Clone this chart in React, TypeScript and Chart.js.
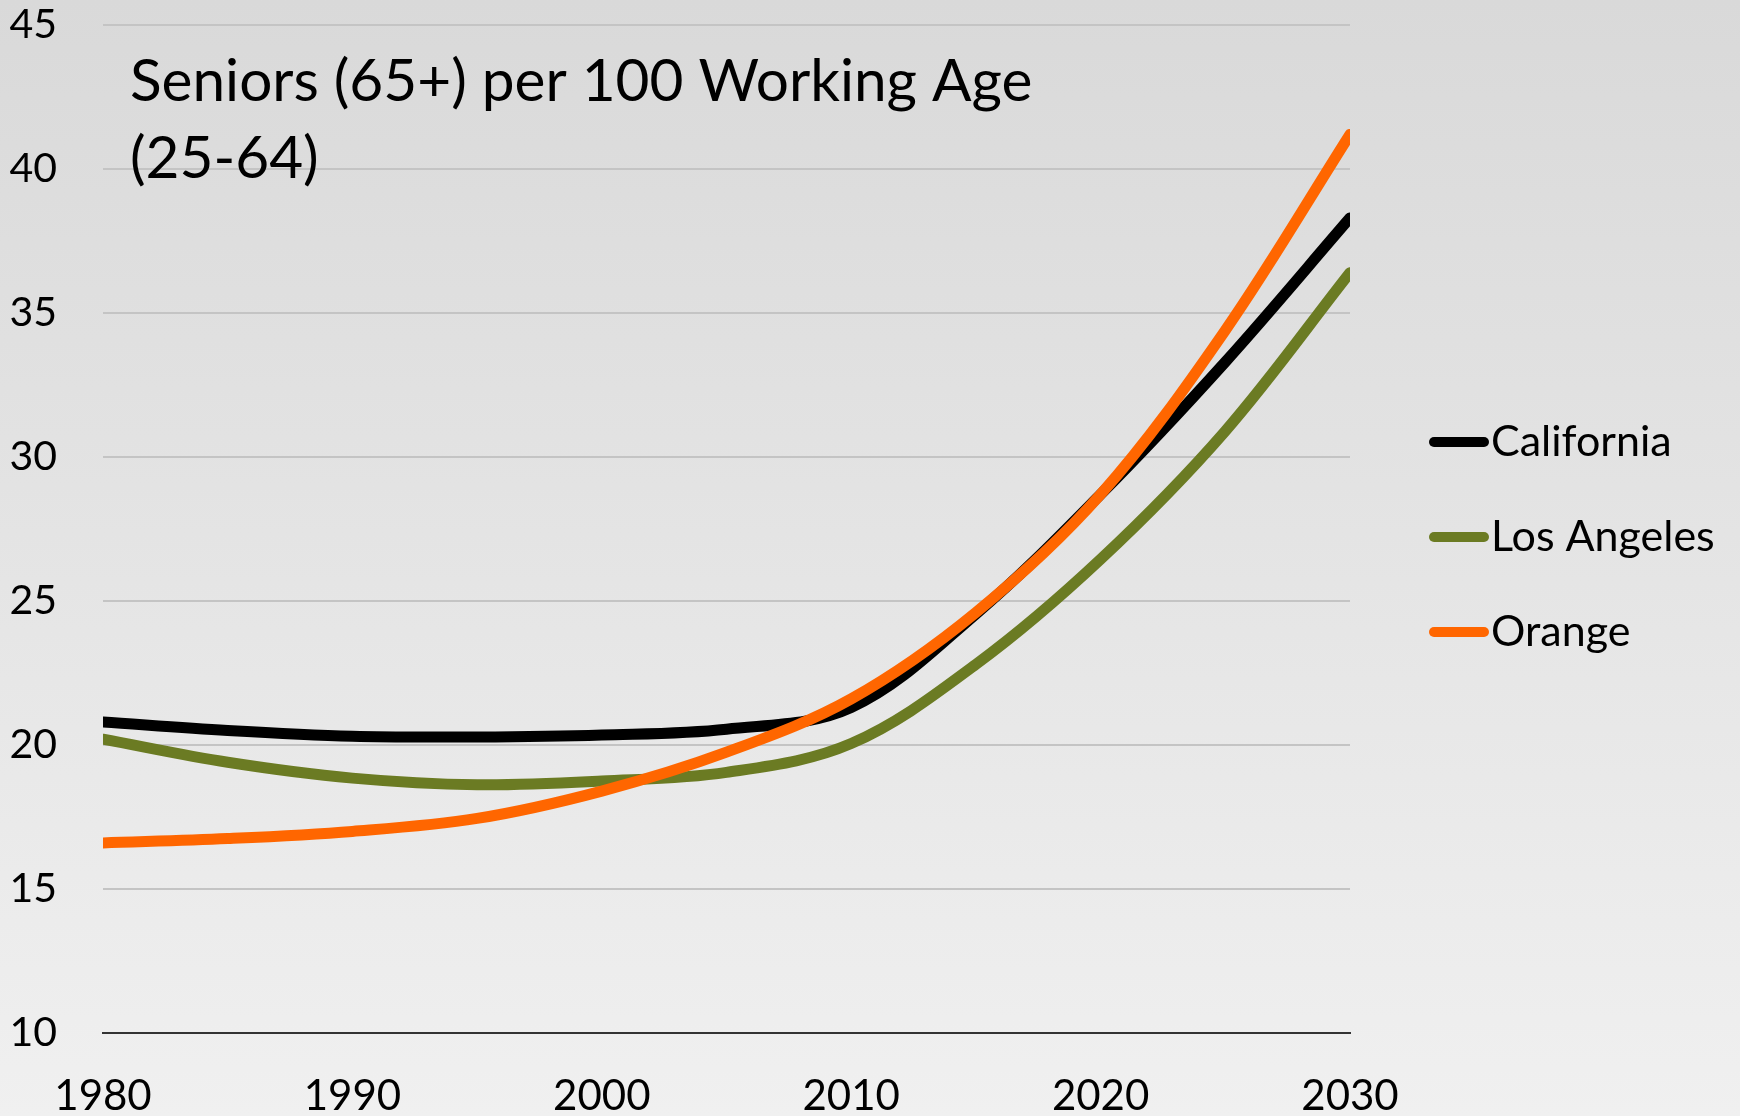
import React, { useEffect, useRef } from "react";
import { Chart, registerables } from "chart.js";

Chart.register(...registerables);

const years = [1980, 1985, 1990, 1995, 2000, 2005, 2010, 2015, 2020, 2025, 2030];
const californiaValues = [20.8, 20.5, 20.3, 20.28, 20.35, 20.55, 21.3, 24.55, 28.7, 33.3, 38.3];
const losAngelesValues = [20.2, 19.4, 18.85, 18.62, 18.75, 19.05, 20.05, 22.8, 26.45, 30.9, 36.4];
const orangeValues = [16.6, 16.75, 17.0, 17.45, 18.4, 19.75, 21.6, 24.6, 28.7, 34.4, 41.2];

const seriesLabels = ["California", "Los Angeles", "Orange"];
const seriesColors = ["#000000", "#6b7b23", "#ff6600"];
const xTickValues = [1980, 1990, 2000, 2010, 2020, 2030];
const yTickValues = [10, 15, 20, 25, 30, 35, 40, 45];
const titleLines = ["Seniors (65+) per 100 Working Age", "(25-64)"];

const FONT = "Lato, 'Open Sans', sans-serif";

const overlayPlugin = {
  id: "overlay",
  afterDraw(chart: any) {
    const ctx = chart.ctx;
    ctx.save();
    ctx.fillStyle = "#000000";
    ctx.textAlign = "left";
    ctx.textBaseline = "alphabetic";
    ctx.font = `58.5px ${FONT}`;
    titleLines.forEach((t, i) => ctx.fillText(t, 130, 101 + i * 77));
    chart.data.datasets.forEach((ds: any, i: number) => {
      const cy = 442 + i * 95;
      ctx.strokeStyle = ds.borderColor;
      ctx.lineWidth = 10;
      ctx.lineCap = "round";
      ctx.beginPath();
      ctx.moveTo(1434, cy);
      ctx.lineTo(1484, cy);
      ctx.stroke();
      ctx.font = `43px ${FONT}`;
      ctx.fillStyle = "#000000";
      ctx.fillText(ds.label, 1491, cy + 14);
    });
    ctx.restore();
  },
};

export default function App() {
  const canvasRef = useRef<HTMLCanvasElement | null>(null);

  useEffect(() => {
    let chart: Chart | null = null;
    let cancelled = false;
    const build = async () => {
      try {
        await document.fonts.load(`40px Lato`);
        await document.fonts.load(`58px Lato`);
      } catch (e) {}
      if (cancelled || !canvasRef.current) return;
      const seriesValues = [californiaValues, losAngelesValues, orangeValues];
      chart = new Chart(canvasRef.current, {
        type: "line",
        data: {
          datasets: seriesValues.map((vals, i) => ({
            label: seriesLabels[i],
            data: years.map((yr, j) => ({ x: yr, y: vals[j] })),
            borderColor: seriesColors[i],
            backgroundColor: seriesColors[i],
            borderWidth: 11,
            pointRadius: 0,
            tension: 0.35,
            borderCapStyle: "round",
            borderJoinStyle: "round",
            fill: false,
            order: 2 - i,
          })),
        },
        options: {
          responsive: false,
          animation: false,
          devicePixelRatio: 1,
          layout: { padding: { top: 25, right: 390, left: 0, bottom: 0 } },
          plugins: {
            legend: { display: false },
            tooltip: { enabled: false },
            title: { display: false },
          },
          scales: {
            x: {
              type: "linear",
              min: 1980,
              max: 2030,
              afterBuildTicks: (scale: any) => {
                scale.ticks = xTickValues.map((v) => ({ value: v }));
              },
              afterFit: (scale: any) => {
                scale.height = 83;
                scale.paddingLeft = 0;
                scale.paddingRight = 0;
              },
              grid: { display: false, drawTicks: false },
              border: { display: true, color: "#333333", width: 2 },
              ticks: {
                padding: 38,
                color: "#000000",
                font: { family: FONT, size: 42 },
                maxRotation: 0,
                autoSkip: false,
                callback: (v: any) => String(v),
              },
            },
            y: {
              type: "linear",
              min: 10,
              max: 45,
              afterBuildTicks: (scale: any) => {
                scale.ticks = yTickValues.map((v) => ({ value: v }));
              },
              afterFit: (scale: any) => {
                scale.width = 103;
                scale.paddingTop = 0;
                scale.paddingBottom = 0;
              },
              grid: { color: "#c4c4c4", lineWidth: 2, drawTicks: false },
              border: { display: false },
              ticks: {
                padding: 46,
                color: "#000000",
                font: { family: FONT, size: 41 },
                autoSkip: false,
                callback: (v: any) => String(v),
              },
            },
          },
        },
        plugins: [overlayPlugin],
      } as any);
    };
    build();
    return () => {
      cancelled = true;
      if (chart) chart.destroy();
    };
  }, []);

  return (
    <div
      style={{
        position: "fixed",
        left: 0,
        top: 0,
        width: 1740,
        height: 1116,
        background: "linear-gradient(to bottom, #d9d9d9 0%, #f0f0f0 100%)",
      }}
    >
      <canvas ref={canvasRef} width={1740} height={1116} style={{ display: "block" }} />
    </div>
  );
}
